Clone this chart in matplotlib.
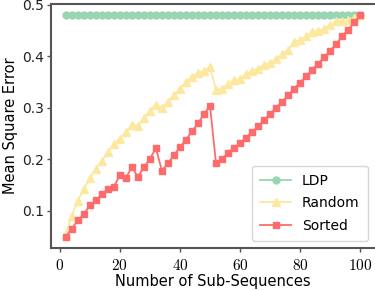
import matplotlib
matplotlib.use("Agg")
import matplotlib.pyplot as plt

# Number of sub-sequences (x axis)
n_sub = list(range(2, 101, 2))

# Mean square error per method
ldp = [0.48] * len(n_sub)
random_mse = [0.055, 0.090, 0.119, 0.142, 0.163, 0.181, 0.197, 0.213, 0.229, 0.240,
              0.252, 0.267, 0.264, 0.281, 0.294, 0.306, 0.300, 0.312, 0.324, 0.337,
              0.350, 0.360, 0.367, 0.372, 0.380, 0.335, 0.337, 0.346, 0.353, 0.356,
              0.365, 0.372, 0.376, 0.383, 0.387, 0.395, 0.404, 0.413, 0.428, 0.432,
              0.439, 0.447, 0.449, 0.454, 0.460, 0.468, 0.468, 0.470, 0.475, 0.480]
sorted_mse = [0.049, 0.065, 0.081, 0.093, 0.110, 0.120, 0.132, 0.142, 0.146, 0.169,
              0.164, 0.184, 0.166, 0.184, 0.201, 0.221, 0.178, 0.192, 0.208, 0.223,
              0.238, 0.254, 0.270, 0.287, 0.304, 0.192, 0.201, 0.212, 0.222, 0.231,
              0.242, 0.253, 0.264, 0.276, 0.288, 0.300, 0.312, 0.324, 0.337, 0.349,
              0.361, 0.374, 0.386, 0.398, 0.411, 0.424, 0.439, 0.452, 0.466, 0.480]

xticks = [0, 20, 40, 60, 80, 100]
yticks = [0.1, 0.2, 0.3, 0.4, 0.5]

plt.rcParams["mathtext.fontset"] = "cm"
plt.rcParams["font.family"] = "DejaVu Sans"

fig = plt.figure(figsize=(3.75, 2.9), dpi=100)
ax = fig.add_axes([0.136, 0.145, 0.864, 0.841])

ax.plot(n_sub, ldp, color="#99d5b2", marker="o", markersize=5, linewidth=1.3, label="LDP")
ax.plot(n_sub, random_mse, color="#fde8a0", marker="^", markersize=5.5, linewidth=1.3, label="Random")
ax.plot(n_sub, sorted_mse, color="#ff6b6b", marker="s", markersize=5, linewidth=1.3, label="Sorted")

ax.set_xticks(xticks)
ax.set_xticklabels(["$%d$" % t for t in xticks], fontsize=11)
ax.set_yticks(yticks)
ax.set_yticklabels(["%.1f" % t for t in yticks], fontsize=10, color="#222222")

ax.set_xlabel("Number of Sub-Sequences", fontsize=10.5, labelpad=1)
ax.set_ylabel("Mean Square Error", fontsize=10.5, labelpad=3)

for side in ["left", "bottom", "top"]:
    ax.spines[side].set_color("#555555")
    ax.spines[side].set_linewidth(1.5)
ax.spines["right"].set_visible(False)
ax.tick_params(axis="both", direction="out", length=3, width=1, color="#555555")
ax.tick_params(axis="y", pad=2)
ax.tick_params(axis="x", pad=4)

ax.legend(loc="lower right", fontsize=10, frameon=True, fancybox=True,
          borderpad=0.6, handlelength=2.2, labelspacing=0.6)

fig.savefig("out.png", dpi=100)
